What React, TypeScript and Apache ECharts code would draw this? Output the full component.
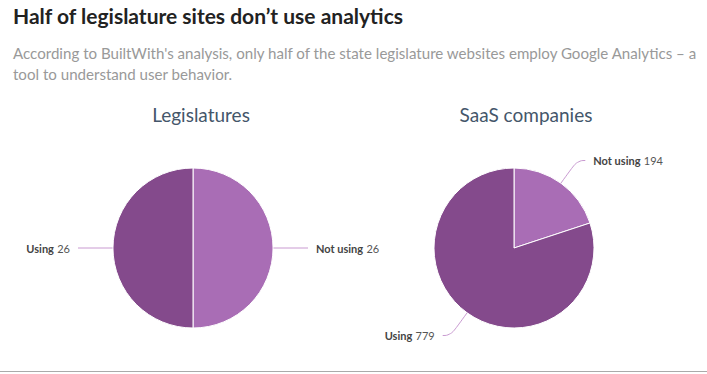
import React, { useEffect, useRef } from "react";
import * as echarts from "echarts";

const mainTitle = "Half of legislature sites don\u2019t use analytics";
const subTitle =
  "According to BuiltWith's analysis, only half of the state legislature websites employ Google Analytics \u2013 a\ntool to understand user behavior.";
const pieTitles = ["Legislatures", "SaaS companies"];
const categories = ["Not using", "Using"];
const legislatureValues = [26, 26];
const saasValues = [194, 779];

const LIGHT = "#a96db5";
const DARK = "#844a8c";
const LINE = "#c99ad1";
const FONT = "Lato, 'Open Sans', sans-serif";

export default function App() {
  const ref = useRef<HTMLDivElement>(null);
  useEffect(() => {
    document.body.style.margin = "0";
    const chart = echarts.init(ref.current!, undefined, { renderer: "svg" });
    const label = {
      formatter: "{n|{b}} {v|{c}}",
      distanceToLabelLine: 8,
      rich: {
        n: { fontFamily: FONT, fontSize: 11, fontWeight: "bold", color: "#444" },
        v: { fontFamily: FONT, fontSize: 11, color: "#555" },
      },
    };
    const mk = (vals: number[]) =>
      categories.map((c, i) => ({
        name: c,
        value: vals[i],
        itemStyle: { color: i === 0 ? LIGHT : DARK },
      }));
    chart.setOption({
      animation: false,
      title: [
        {
          text: mainTitle,
          left: 8,
          top: 0,
          textStyle: { fontFamily: FONT, fontSize: 21, fontWeight: "bold", color: "#222" },
        },
        {
          text: subTitle,
          left: 8,
          top: 37,
          textStyle: {
            fontFamily: FONT,
            fontSize: 15.1,
            fontWeight: "normal",
            color: "#999",
            lineHeight: 21,
          },
        },
        {
          text: pieTitles[0],
          left: 196,
          top: 100,
          textAlign: "center",
          textStyle: { fontFamily: FONT, fontSize: 19, fontWeight: "normal", color: "#44566a" },
        },
        {
          text: pieTitles[1],
          left: 521,
          top: 100,
          textAlign: "center",
          textStyle: { fontFamily: FONT, fontSize: 19, fontWeight: "normal", color: "#44566a" },
        },
      ],
      graphic: [
        {
          type: "line",
          shape: { x1: 0, y1: 371.5, x2: 707, y2: 371.5 },
          style: { stroke: "#aaa", lineWidth: 1 },
        },
      ],
      series: [
        {
          type: "pie",
          center: [193, 248],
          radius: [0, 80],
          startAngle: 90,
          clockwise: true,
          itemStyle: { borderColor: "#fff", borderWidth: 1 },
          label,
          labelLine: { length: 20, length2: 15, lineStyle: { color: LINE, width: 1 } },
          emphasis: { disabled: true },
          data: mk(legislatureValues),
        },
        {
          type: "pie",
          center: [514, 248],
          radius: [0, 80],
          startAngle: 90,
          clockwise: true,
          itemStyle: { borderColor: "#fff", borderWidth: 1 },
          label,
          labelLine: { length: 28, length2: 8, smooth: 0.5, lineStyle: { color: LINE, width: 1 } },
          emphasis: { disabled: true },
          data: mk(saasValues),
        },
      ],
    });
    return () => chart.dispose();
  }, []);
  return <div ref={ref} style={{ width: 707, height: 374 }} />;
}
